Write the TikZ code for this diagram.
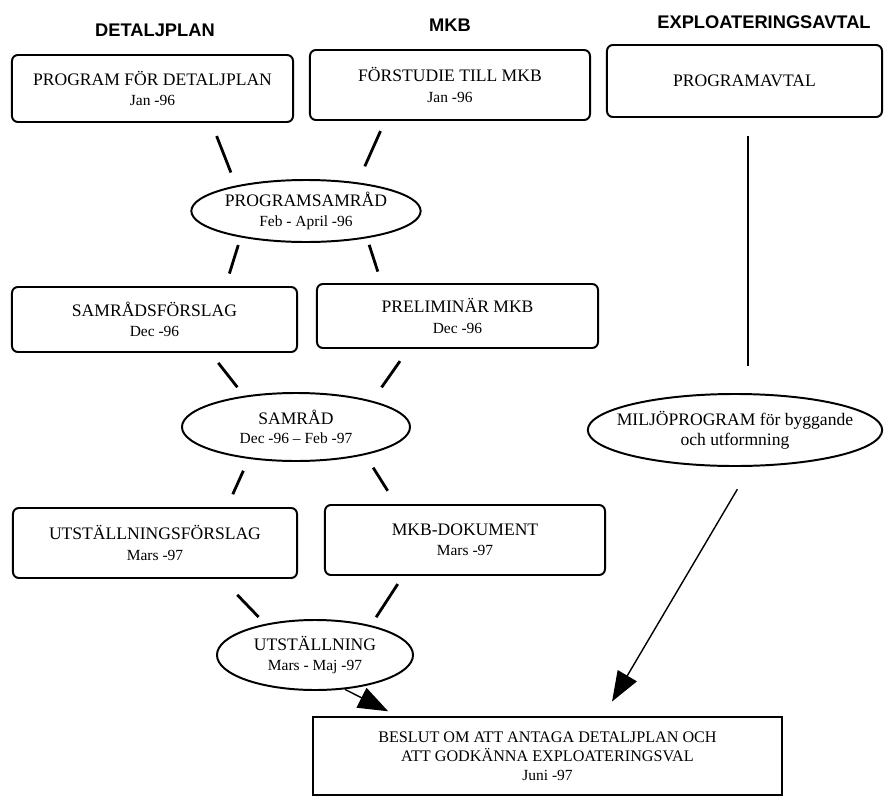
\documentclass[tikz,border=0pt]{standalone}
\usepackage{fontspec}
\setmainfont{Liberation Serif}
\setsansfont{Liberation Sans}
\usetikzlibrary{positioning, arrows.meta, shapes.geometric, calc}
\newcommand{\datum}[1]{{\fontsize{11}{14}\selectfont #1}}
\tikzset{
  box/.style  = {rectangle, draw, line width=1.4pt, rounded corners=0.15cm, align=center, font=\fontsize{12.5}{14.5}\selectfont},
  oval/.style = {ellipse, draw, line width=1.4pt, inner sep=0pt, align=center, font=\fontsize{12.5}{14}\selectfont},
  head/.style = {font=\sffamily\bfseries\fontsize{13}{16}\selectfont, anchor=base},
  tick/.style = {line width=2pt},
  link/.style = {line width=1.2pt},
  arr/.style  = {-{Triangle[length=0.75cm, width=0.55cm]}, line width=1pt}
}

\begin{document}
\begin{tikzpicture}[x=0.025cm, y=-0.025cm]
  \useasboundingbox (0,0) rectangle (884,797);
  % column headings
  \node[head] (hdp)  at (155,36) {DETALJPLAN};
  \node[head] (hmkb) at (450,31) {MKB};
  \node[head] (hea)  at (764,28) {EXPLOATERINGSAVTAL};
  % first row
  \node[box, minimum width=7.025cm, minimum height=1.675cm] (dp1)  at (152.5,88.5) {PROGRAM FÖR DETALJPLAN\\\datum{Jan -96}};
  \node[box, minimum width=7cm, minimum height=1.75cm]      (mkb1) at (450,85)     {FÖRSTUDIE TILL MKB\\\datum{Jan -96}};
  \node[box, minimum width=6.875cm, minimum height=1.8cm]   (ea1)  at (744.5,81)   {PROGRAMAVTAL};
  \node[oval, minimum width=5.7cm, minimum height=1.55cm]   (ps)   at (306,211)    {PROGRAMSAMRÅD\\\datum{Feb - April -96}};
  % second row
  \node[box, minimum width=7.125cm, minimum height=1.625cm] (dp2)  at (154.5,319.5) {SAMRÅDSFÖRSLAG\\\datum{Dec -96}};
  \node[box, minimum width=7.025cm, minimum height=1.6cm]   (mkb2) at (457.5,316)   {PRELIMINÄR MKB\\\datum{Dec -96}};
  \node[oval, minimum width=5.7cm, minimum height=1.7cm]    (sr)   at (296,427)     {SAMRÅD\\\datum{Dec -96 – Feb -97}};
  % third row
  \node[box, minimum width=7.1cm, minimum height=1.75cm]    (dp3)  at (155,543)   {UTSTÄLLNINGSFÖRSLAG\\\datum{Mars -97}};
  \node[box, minimum width=7cm, minimum height=1.75cm]      (mkb3) at (465,540)   {MKB-DOKUMENT\\\datum{Mars -97}};
  \node[oval, minimum width=4.9cm, minimum height=1.75cm]   (ut)   at (315,655)   {UTSTÄLLNING\\\datum{Mars - Maj -97}};
  \node[oval, inner xsep=-10pt, minimum width=7cm, minimum height=1.8cm] (mp) at (735,430) {MILJÖPROGRAM för byggande\\och utformning};
  % decision
  \node[box, sharp corners, minimum width=11.725cm, minimum height=1.95cm, font=\fontsize{11.5}{13.5}\selectfont] (bes) at (547.5,756)
    {BESLUT OM ATT ANTAGA DETALJPLAN OCH\\ATT GODKÄNNA EXPLOATERINGSVAL\\\datum{Juni -97}};

  \draw[tick, shorten <=0.35cm, shorten >=0.35cm]   ($(dp1.south)+(59,0)$)   -- (ps.160);
  \draw[tick, shorten <=0.275cm, shorten >=0.44cm]  ($(mkb1.south)+(-65,0)$) -- (ps.29);
  \draw[tick, shorten <=0.2cm, shorten >=0.325cm]   (ps.202) -- ($(dp2.north)+(71,0)$);
  \draw[tick, shorten <=0.175cm, shorten >=0.3cm]   (ps.336) -- ($(mkb2.north)+(-76,0)$);
  \draw[tick, shorten <=0.315cm, shorten >=0.27cm]  ($(dp2.south)+(56,0)$)   -- (sr.149);
  \draw[tick, shorten <=0.37cm, shorten >=0.41cm]   ($(mkb2.south)+(-49,0)$) -- (sr.19);
  \draw[tick, shorten <=0.325cm, shorten >=0.35cm]  (sr.214) -- ($(dp3.north)+(72,0)$);
  \draw[tick, shorten <=0.375cm, shorten >=0.39cm]  (sr.338) -- ($(mkb3.north)+(-69,0)$);
  \draw[tick, shorten <=0.55cm, shorten >=0.24cm]   ($(dp3.south)+(67,0)$)   -- (ut.148);
  \draw[tick, shorten <=0.24cm, shorten >=0.24cm]   ($(mkb3.south)+(-62,0)$) -- (ut.28);
  \draw[link, shorten <=0.45cm, shorten >=0.675cm]  ($(ea1.south)+(3.5,0)$)  -- ($(ea1.south |- mp.north)+(3.5,0)$);
  \draw[arr, shorten >=0.26cm] (ut.311) -- ($(bes.north)+(-150,0)$);
  \draw[arr, shorten <=0.65cm, shorten >=0.42cm] (mp.293) -- ($(bes.north)+(56,0)$);
\end{tikzpicture}
\end{document}
